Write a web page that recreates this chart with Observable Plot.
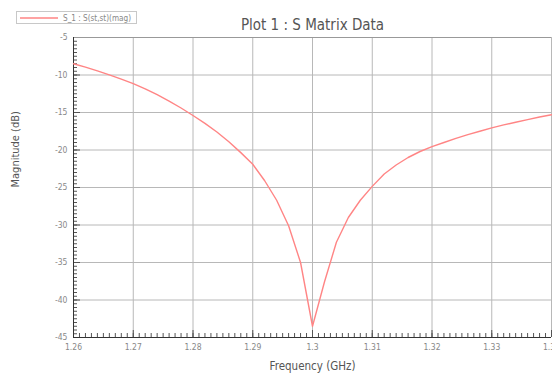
<!DOCTYPE html>
<html>
<head>
<meta charset="utf-8">
<script src="https://cdn.jsdelivr.net/npm/d3@7"></script>
<script src="https://cdn.jsdelivr.net/npm/@observablehq/plot@0.6"></script>
<style>
  html, body { margin: 0; padding: 0; background: #fff; }
  #chart svg { display: block; font-stretch: condensed; }
</style>
</head>
<body>
<div id="chart"></div>
<script>
const title = "Plot 1 : S Matrix Data";
const legendLabel = "S_1 : S(st,st)(mag)";
const xLabel = "Frequency (GHz)";
const yLabel = "Magnitude (dB)";

const freq = [1.260, 1.262, 1.264, 1.266, 1.268, 1.270, 1.272, 1.274, 1.276, 1.278,
              1.280, 1.282, 1.284, 1.286, 1.288, 1.290, 1.292, 1.294, 1.296, 1.298,
              1.300, 1.302, 1.304, 1.306, 1.308, 1.310, 1.312, 1.314, 1.316, 1.318,
              1.320, 1.322, 1.324, 1.326, 1.328, 1.330, 1.332, 1.334, 1.336, 1.338, 1.340];
const magDb = [-8.50, -8.96, -9.46, -9.99, -10.55, -11.15, -11.85, -12.63, -13.48, -14.4,
               -15.4, -16.45, -17.6, -18.9, -20.35, -21.9, -24.1, -26.7, -30.1, -35.0,
               -43.5, -37.6, -32.3, -29.0, -26.7, -24.85, -23.2, -22.0, -21.0, -20.2,
               -19.55, -19.0, -18.45, -17.95, -17.5, -17.05, -16.65, -16.3, -15.95, -15.6, -15.3];

const xTicks = [1.26, 1.27, 1.28, 1.29, 1.30, 1.31, 1.32, 1.33, 1.34];
const yTicks = [-5, -10, -15, -20, -25, -30, -35, -40, -45];
const xMinor = d3.range(0, 81).map(i => 1.26 + i * 0.001);
const yMinor = d3.range(0, 81).map(i => -45 + i * 0.5);

const data = freq.map((f, i) => ({f, m: magDb[i]}));

const W = 552, H = 376, mL = 73, mR = 1, mT = 37, mB = 39;
const plotW = W - mL - mR, plotH = H - mT - mB;
const font = "'DejaVu Sans', sans-serif";

const chart = Plot.plot({
  width: W, height: H,
  marginLeft: mL, marginRight: mR, marginTop: mT, marginBottom: mB,
  style: {fontFamily: font, background: "#fff"},
  x: {domain: [1.26, 1.34]},
  y: {domain: [-45, -5]},
  marks: [
    Plot.gridX(xTicks, {stroke: "#b8b8b8", strokeOpacity: 1, strokeWidth: 1}),
    Plot.gridY(yTicks, {stroke: "#b8b8b8", strokeOpacity: 1, strokeWidth: 1}),
    Plot.tickX(xMinor, {x: d => d, stroke: "#555", insetTop: plotH - 4}),
    Plot.tickX(xTicks, {x: d => d, stroke: "#555", insetTop: plotH - 7}),
    Plot.tickY(yMinor, {y: d => d, stroke: "#555", insetRight: plotW - 4}),
    Plot.tickY(yTicks, {y: d => d, stroke: "#555", insetRight: plotW - 7}),
    Plot.ruleY([-5], {stroke: "#999"}),
    Plot.ruleX([1.26], {stroke: "#333"}),
    Plot.ruleY([-45], {stroke: "#333"}),
    Plot.line(data, {x: "f", y: "m", stroke: "#ff8585", strokeWidth: 1.4}),
    Plot.axisX(xTicks, {tickSize: 0, tickPadding: 6, fontSize: 8.5, fill: "#888",
      tickFormat: d => String(+d.toFixed(2)), label: null}),
    Plot.axisY(yTicks, {tickSize: 0, tickPadding: 6, fontSize: 8.5, fill: "#888",
      tickFormat: d => String(d), label: null}),
    Plot.text([xLabel], {frameAnchor: "bottom", dy: 32, fontSize: 11.5, fill: "#555", text: d => d}),
    Plot.text([yLabel], {frameAnchor: "left", dx: -58, rotate: -90, fontSize: 11, fill: "#555", text: d => d}),
    Plot.text([title], {frameAnchor: "top", dy: -18, fontSize: 15, fill: "#555", text: d => d})
  ]
});

// legend box in the upper-left corner
const svg = d3.select(chart);
const lg = svg.append("g");
lg.append("rect").attr("x", 16.5).attr("y", 11.5).attr("width", 120).attr("height", 12)
  .attr("fill", "#fff").attr("stroke", "#c8c8c8");
lg.append("line").attr("x1", 20).attr("x2", 58).attr("y1", 18).attr("y2", 18)
  .attr("stroke", "#ff8585").attr("stroke-width", 1.4);
lg.append("text").attr("x", 63).attr("y", 20.5).attr("font-size", 8).attr("fill", "#888")
  .attr("text-anchor", "start")
  .attr("font-family", font).attr("textLength", 68).attr("lengthAdjust", "spacingAndGlyphs")
  .text(legendLabel);

document.getElementById("chart").appendChild(chart);
</script>
</body>
</html>
